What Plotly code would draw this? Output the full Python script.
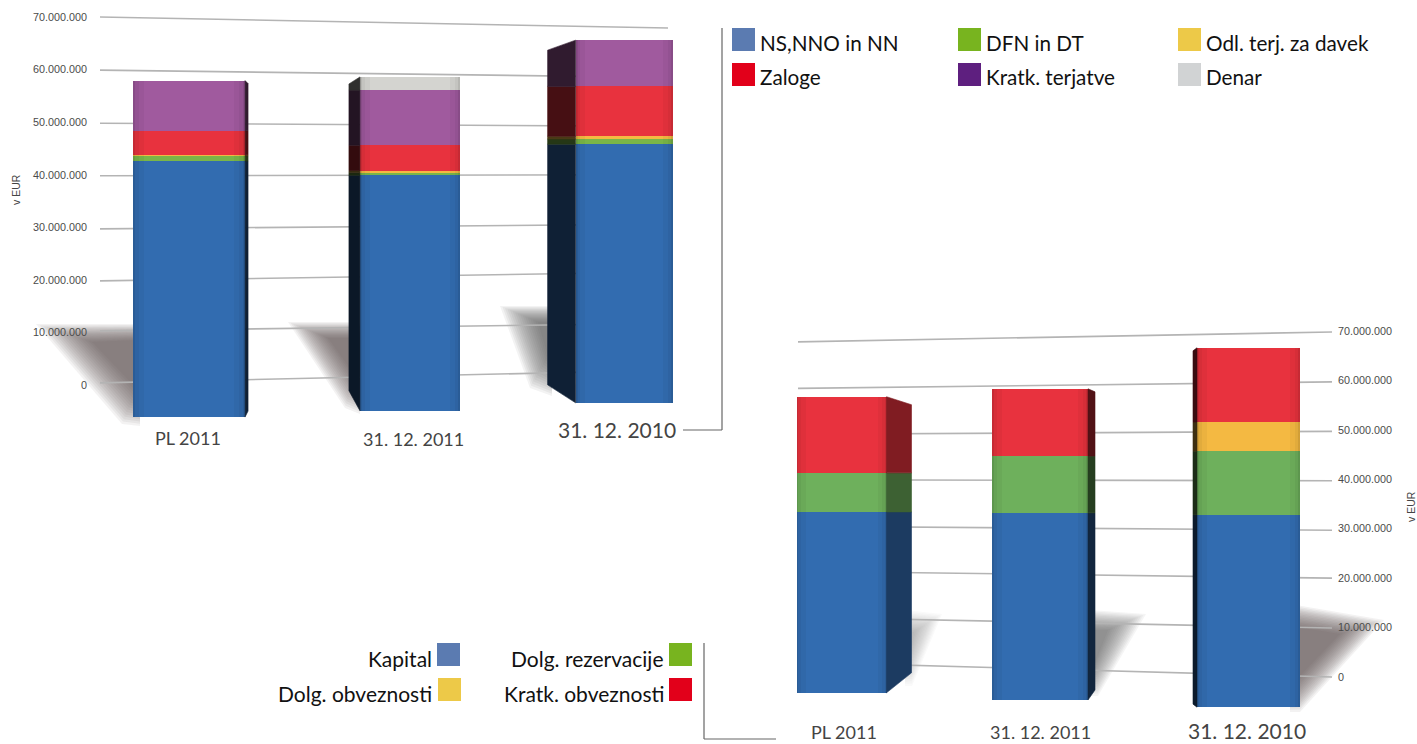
import plotly.graph_objects as go

W, H = 1417, 744
FONT = "Lato"
TICK_FONT = "Liberation Sans"

# ---------- data (EUR millions) ----------
tick_values = [0, 10, 20, 30, 40, 50, 60, 70]
tick_labels = ["0", "10.000.000", "20.000.000", "30.000.000",
               "40.000.000", "50.000.000", "60.000.000", "70.000.000"]
categories = ["PL 2011", "31. 12. 2011", "31. 12. 2010"]

assets_ns = [42.6, 39.9, 45.8]
assets_dfn = [1.0, 0.5, 1.0]
assets_odl = [0.2, 0.4, 0.5]
assets_zaloge = [4.6, 4.8, 9.5]
assets_terjatve = [9.5, 10.5, 8.8]
assets_denar = [0.0, 2.5, 0.0]

liab_kapital = [33.4, 33.2, 32.8]
liab_rez = [7.9, 11.5, 12.9]
liab_dolg = [0.0, 0.0, 5.9]
liab_kratk = [15.4, 13.6, 15.0]

# apparent foot of each bar (perspective drop below the zero line)
assets_foot = [-6.1, -4.9, -3.4]
liab_foot = [-3.2, -4.65, -6.1]

# tilted gridlines: value at the left and right end of each line
assets_grid_start = [0.4, 10.3, 19.8, 29.7, 39.8, 49.8, 59.9, 70.0]
assets_grid_end = [2.8, 11.7, 21.5, 30.6, 40.0, 49.2, 58.5, 67.9]
liab_grid_start = [3.0, 12.1, 21.4, 30.5, 39.9, 49.1, 58.4, 67.8]
liab_grid_end = [0.0, 9.9, 20.0, 29.7, 39.7, 49.7, 59.7, 69.8]

# ---------- styling ----------
C_BLUE, C_GREEN, C_YEL, C_RED, C_PUR, C_GRAY = (
    (50, 108, 176), (110, 176, 92), (244, 185, 66),
    (232, 50, 62), (160, 90, 158), (212, 212, 208))
THIN_GREEN = (122, 182, 72)

assets_series = [(assets_ns, C_BLUE), (assets_dfn, THIN_GREEN), (assets_odl, C_YEL),
                 (assets_zaloge, C_RED), (assets_terjatve, C_PUR), (assets_denar, C_GRAY)]
liab_series = [(liab_kapital, C_BLUE), (liab_rez, C_GREEN), (liab_dolg, C_YEL), (liab_kratk, C_RED)]

# axis geometry (px) and per-bar pseudo-3D geometry
LPX = dict(left=93, right=700, c0=189, unit=222, y0=385, k=5.257)
RPX = dict(left=770, right=1335, c0=841.5, unit=200, y0=677, k=4.943)
a_pos, a_wid = [0, 0.995, 1.96], [0.505, 0.45, 0.437]
l_pos, l_wid = [0, 0.9925, 2.035], [0.45, 0.48, 0.515]
# side face: px width (negative = left), shift at top and foot (px, + = down), darkness
a_side = [(3, 3, -6, 0.30), (-11, 7, -20, 0.22), (-28, 10, -18, 0.30)]
l_side = [(25, 8, -20, 0.55), (7, 3, -10, 0.35), (-4, 3, -3, 0.25)]


def rng(p):
    return [(p["left"] - p["c0"]) / p["unit"], (p["right"] - p["c0"]) / p["unit"]]


def yrng(p):
    return [(p["y0"] - H) / p["k"], p["y0"] / p["k"]]


fig = go.Figure()
shapes, annos = [], []


def rgb(c, f=1.0):
    return "rgb(%d,%d,%d)" % tuple(round(v * f) for v in c)


def draw_chart(series, foot, pos, wid, side, p, xa, ya, names):
    tops = list(foot)
    totals = [sum(s[0][i] for s in series) for i in range(3)]
    for j, (vals, col) in enumerate(series):
        heights = []
        for i in range(3):
            top = vals[i] if j == 0 else tops[i] + vals[i]
            heights.append(top - tops[i])
        fig.add_trace(go.Bar(x=pos, y=heights, base=list(tops), width=wid, name=names[j],
                             marker=dict(color=rgb(col), line=dict(width=0)),
                             xaxis=xa, yaxis=ya, showlegend=False, hoverinfo="skip"))
        # side faces: chamfered only at the very top and foot
        for i in range(3):
            w, st, sb, dark = side[i]
            half = wid[i] / 2
            edge = pos[i] + (half if w > 0 else -half)
            ex = edge + w / p["unit"]
            lo, hi = tops[i], tops[i] + heights[i]
            if hi - lo <= 0:
                continue
            s_hi = -st / p["k"] if abs(hi - totals[i]) < 1e-6 else 0
            s_lo = -sb / p["k"] if abs(lo - foot[i]) < 1e-6 else 0
            fig.add_trace(go.Scatter(
                x=[edge, edge, ex, ex, edge],
                y=[lo, hi, hi + s_hi, lo + s_lo, lo],
                mode="lines", fill="toself", fillcolor=rgb(col, dark),
                line=dict(width=0.6, color=rgb(col, dark)), xaxis=xa, yaxis=ya,
                showlegend=False, hoverinfo="skip"))
        tops = [tops[i] + heights[i] for i in range(3)]
    # soft cylinder-like shading across each face
    heights = [totals[i] - foot[i] for i in range(3)]
    for frac, shade in [(0.10, "rgba(0,0,0,0.035)"), (0.05, "rgba(0,0,0,0.04)"), (0.02, "rgba(0,0,0,0.07)")]:
        for sgn in (-1, 1):
            xs = [pos[i] + sgn * (wid[i] / 2 - wid[i] * frac / 2) for i in range(3)]
            ws = [wid[i] * frac for i in range(3)]
            fig.add_trace(go.Bar(x=xs, y=heights, base=foot, width=ws,
                                 marker=dict(color=shade, line=dict(width=0)),
                                 xaxis=xa, yaxis=ya, showlegend=False, hoverinfo="skip"))


def grid(start, end, x0px, x1px, p, xr, yr):
    x0 = (x0px - p["c0"]) / p["unit"]
    x1 = (x1px - p["c0"]) / p["unit"]
    for a, b in zip(start, end):
        shapes.append(dict(type="line", xref=xr, yref=yr, x0=x0, x1=x1, y0=a, y1=b,
                           layer="below", line=dict(color="#b4b4b4", width=1.6)))


def px(x, y):
    return x / W, 1 - y / H


def shadow(outer, inner, n=16, alpha=0.075):
    for s in range(n):
        t = s / (n - 1)
        pts = [(a[0] + (b[0] - a[0]) * t, a[1] + (b[1] - a[1]) * t) for a, b in zip(outer, inner)]
        path = "M " + " L ".join("%.5f,%.5f" % px(*q) for q in pts) + " Z"
        shapes.append(dict(type="path", xref="paper", yref="paper", path=path, layer="below",
                           fillcolor="rgba(90,85,85,%.3f)" % alpha, line=dict(width=0)))


# shadows
shadow([(140, 324), (36, 324), (122, 424), (140, 426)], [(140, 340), (92, 342), (136, 388), (140, 392)])
shadow([(360, 322), (288, 322), (345, 408), (360, 414)], [(360, 338), (328, 338), (354, 374), (360, 380)])
shadow([(552, 306), (500, 306), (530, 388), (552, 396)], [(552, 322), (538, 322), (548, 356), (552, 362)], alpha=0.07)
shadow([(1290, 604), (1384, 620), (1300, 712), (1290, 712)], [(1290, 626), (1340, 634), (1300, 676), (1290, 680)])
shadow([(1090, 610), (1146, 614), (1098, 696), (1090, 696)], [(1090, 630), (1108, 630), (1096, 660), (1090, 664)], alpha=0.06)
shadow([(905, 610), (942, 614), (912, 686), (905, 686)], [(905, 632), (914, 632), (910, 650), (905, 654)], alpha=0.03)

grid(assets_grid_start, assets_grid_end, 100, 668, LPX, "x", "y")
grid(liab_grid_start, liab_grid_end, 798, 1332, RPX, "x2", "y2")

draw_chart(assets_series, assets_foot, a_pos, a_wid, a_side, LPX, "x", "y",
           ["NS,NNO in NN", "DFN in DT", "Odl. terj. za davek", "Zaloge", "Kratk. terjatve", "Denar"])
draw_chart(liab_series, liab_foot, l_pos, l_wid, l_side, RPX, "x2", "y2",
           ["Kapital", "Dolg. rezervacije", "Dolg. obveznosti", "Kratk. obveznosti"])


def text(x, y, s, size, color="#111", anchor="left", angle=0, family=FONT):
    xx, yy = px(x, y)
    annos.append(dict(x=xx, y=yy, xref="paper", yref="paper", text=s, showarrow=False,
                      xanchor=anchor, yanchor="middle", textangle=angle, borderpad=0, borderwidth=0,
                      font=dict(family=family, size=size, color=color)))


def swatch(x, y, color, w=23, h=23):
    x0, y1 = px(x, y)
    x1, y0 = px(x + w, y + h)
    shapes.append(dict(type="rect", xref="paper", yref="paper", x0=x0, x1=x1, y0=y0, y1=y1,
                       fillcolor=color, line=dict(width=0), layer="above"))


def seg(x0, y0, x1, y1):
    a, b = px(x0, y0), px(x1, y1)
    shapes.append(dict(type="line", xref="paper", yref="paper", x0=a[0], y0=a[1], x1=b[0], y1=b[1],
                       line=dict(color="#666", width=1.2), layer="above"))


# top legend
for (x, y, col, name, dy) in [
    (732, 28, "#5b7bb1", "NS,NNO in NN", 15), (958, 28, "#78b41f", "DFN in DT", 15),
    (1178, 28, "#edc948", "Odl. terj. za davek", 15), (732, 63, "#e2001a", "Zaloge", 14),
    (958, 63, "#5e1f7f", "Kratk. terjatve", 14), (1178, 63, "#d1d3d4", "Denar", 14)]:
    swatch(x, y, col)
    text(x + 28, y + dy, name, 20.7)

# bottom legend
for (x, y, col, name) in [
    (437, 643, "#5b7bb1", "Kapital"), (669, 643, "#78b41f", "Dolg. rezervacije"),
    (438, 678, "#edc948", "Dolg. obveznosti"), (669, 678, "#e2001a", "Kratk. obveznosti")]:
    swatch(x, y, col)
    text(664 if x > 500 else 432, y + 15, name, 21, anchor="right")

# connectors
seg(722, 28, 722, 430)
seg(722, 430, 683, 430)
seg(704, 643, 704, 739)
seg(704, 739, 776, 739)

# category labels
for cat, x, y, size in zip(categories, [188, 413.5, 617], [438, 439, 429], [18, 18, 21]):
    text(x, y, cat, size, "#444", "center")
for cat, x, y, size in zip(categories, [844, 1040, 1247], [732, 732, 730.5], [18, 18, 21]):
    text(x, y, cat, size, "#444", "center")

# unit labels
text(16, 190, "v EUR", 10.5, "#444", "center", -90, TICK_FONT)
text(1411, 507, "v EUR", 10.5, "#444", "center", -90, TICK_FONT)

tickfont = dict(family=TICK_FONT, size=10.8, color="#4a4a4a")
axis_off = dict(showgrid=False, zeroline=False, showticklabels=False, showline=False, ticks="")
fig.update_layout(
    width=W, height=H, autosize=False, margin=dict(l=0, r=0, t=0, b=0),
    paper_bgcolor="white", plot_bgcolor="rgba(0,0,0,0)", barmode="overlay", bargap=0,
    showlegend=False, shapes=shapes, annotations=annos,
    xaxis=dict(domain=[LPX["left"] / W, LPX["right"] / W], range=rng(LPX), anchor="y", **axis_off),
    yaxis=dict(domain=[0, 1], range=yrng(LPX), anchor="x", showgrid=False, zeroline=False, showline=False,
               ticks="", tickvals=tick_values, ticktext=tick_labels, tickfont=tickfont, ticklabelstandoff=5),
    xaxis2=dict(domain=[RPX["left"] / W, RPX["right"] / W], range=rng(RPX), anchor="y2", **axis_off),
    yaxis2=dict(domain=[0, 1], range=yrng(RPX), anchor="x2", side="right", showgrid=False, zeroline=False, showline=False,
                ticks="", tickvals=tick_values, ticktext=tick_labels, tickfont=tickfont, ticklabelstandoff=2),
)
fig.write_html("out.html", post_script="document.body.style.margin='0';document.body.style.overflow='hidden';",
               config=dict(displayModeBar=False))
